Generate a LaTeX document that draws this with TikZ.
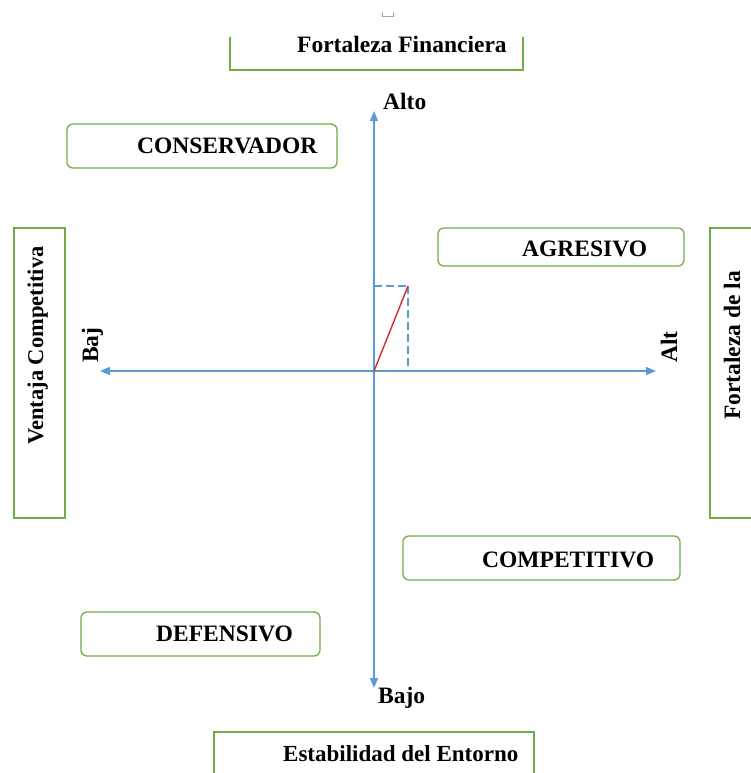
\documentclass[tikz,border=0pt]{standalone}
\usepackage{fontspec}
\setmainfont{Liberation Serif}
\usetikzlibrary{arrows.meta}
\definecolor{axisblue}{HTML}{5B9BD5}
\definecolor{boxgreen}{HTML}{70AD47}
\definecolor{vecred}{HTML}{D42A2A}
\begin{document}
\begin{tikzpicture}[x=1pt,y=-1pt,
  lbl/.style={font=\fontsize{23.5}{28}\selectfont\bfseries, inner sep=0pt},
  quad/.style={draw=boxgreen, line width=1.3pt, rounded corners=6pt, inner sep=0pt},
  frame/.style={draw=boxgreen, line width=1.3pt},
  axis/.style={draw=axisblue, line width=1.3pt,
    {Triangle[length=10pt,width=8pt]}-{Triangle[length=10pt,width=8pt]}},
  guide/.style={draw=axisblue, line width=1.2pt, dash pattern=on 8pt off 4pt},
  vec/.style={draw=vecred, line width=1.4pt}]
\useasboundingbox (0,0) rectangle (751,773);

% small mark above the top frame
\draw[gray!70, line width=0.8pt] (382,12.5) -- (382,16) -- (393,16) -- (393,12.5);

% outer frames (partly cut by the page edge)
\draw[frame] (230,37) -- (230,70) -- (523,70) -- (523,37);
\node[lbl, anchor=base west] (finan) at (297,53) {Fortaleza Financiera};

\node[frame, inner sep=0pt, minimum width=51pt, minimum height=290pt] (leftbox) at (39.5,373) {};
\node[lbl, font=\fontsize{22.5}{27}\selectfont\bfseries, rotate=90, anchor=base west] (ventaja) at (43,445) {Ventaja Competitiva};

\draw[frame] (752,228) -- (710,228) -- (710,518) -- (752,518);
\node[lbl, rotate=90, anchor=base west] (fortind) at (740,420) {Fortaleza de la};

\draw[frame] (214,774) -- (214,732) -- (534,732) -- (534,774);
\node[lbl, font=\fontsize{23}{28}\selectfont\bfseries, anchor=base west] (entorno) at (283,761) {Estabilidad del Entorno};

% quadrant boxes
\node[quad, minimum width=270pt, minimum height=44pt] (consbox) at (202,146) {};
\node[lbl, anchor=base west] (cons) at (137,153) {CONSERVADOR};

\node[quad, minimum width=246pt, minimum height=38pt] (agrbox) at (561,247) {};
\node[lbl, anchor=base west] (agr) at (522,256.5) {AGRESIVO};

\node[quad, minimum width=277pt, minimum height=44pt] (compbox) at (541.5,558) {};
\node[lbl, anchor=base west] (comp) at (482,567) {COMPETITIVO};

\node[quad, minimum width=239pt, minimum height=44pt] (defbox) at (200.5,634) {};
\node[lbl, anchor=base west] (def) at (156,641) {DEFENSIVO};

% axes
\coordinate (O) at (374,371);
\coordinate (yt) at (374,111);
\coordinate (yb) at (374,688);
\coordinate (xl) at (100,371);
\coordinate (xr) at (656,371);
\draw[axis] (yb) -- (yt);
\draw[axis] (xl) -- (xr);

\node[lbl, anchor=base west] (alto) at (383,110) {Alto};
\node[lbl, anchor=base west] (bajo) at (378,703) {Bajo};
\node[lbl, rotate=90, anchor=base west] (baj) at (98,363) {Baj};
\node[lbl, rotate=90, anchor=base west] (alt) at (677,363) {Alt};

% resulting vector and its projections
\coordinate (P) at (408,286);
\coordinate (Py) at (374,286);
\coordinate (Px) at (408,371);
\draw[guide] (Py) -- (P);
\draw[guide] (P) -- (Px);
\draw[vec] (O) -- (P);
\end{tikzpicture}
\end{document}
